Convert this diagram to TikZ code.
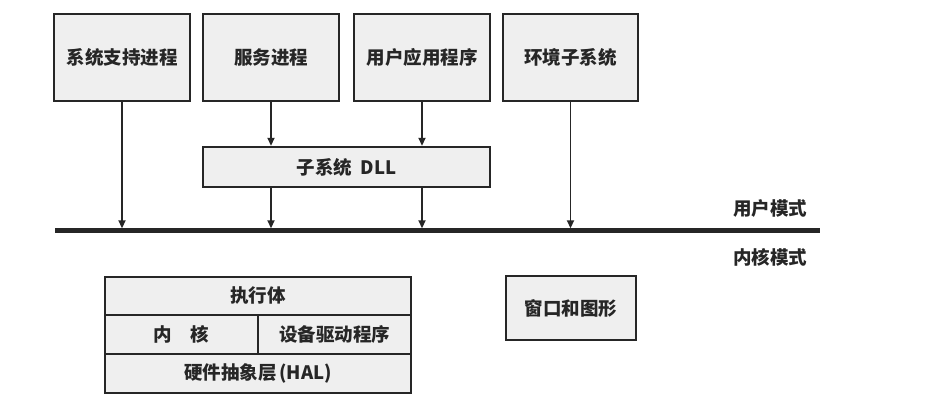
\documentclass[tikz,border=0pt]{standalone}
\usepackage{fontspec}
\setmainfont{Noto Sans CJK SC}
\usetikzlibrary{arrows.meta}
\definecolor{boxfill}{HTML}{EFEFEF}
\definecolor{ink}{HTML}{262626}
\tikzset{
  box/.style={draw=ink, fill=boxfill, line width=2.4pt, inner sep=0pt, text=ink,
    font=\fontsize{18.5}{22}\selectfont\bfseries},
  arr/.style={draw=ink, line width=1.8pt, -{Triangle[length=8pt,width=7pt]}},
  lbl/.style={text=ink, font=\fontsize{18.5}{22}\selectfont\bfseries, inner sep=0pt}
}
\begin{document}
\begin{tikzpicture}[x=1pt,y=-1pt]
\useasboundingbox[fill=white] (0,0) rectangle (929,414);
% top boxes
\node[box, minimum width=136pt, minimum height=87pt] (b1) at (122,57.5) {系统支持进程};
\node[box, minimum width=136pt, minimum height=87pt] (b2) at (271,57.5) {服务进程};
\node[box, minimum width=136pt, minimum height=87pt] (b3) at (422,57.5) {用户应用程序};
\node[box, minimum width=135pt, minimum height=87pt] (b4) at (570.5,57.5) {环境子系统};
\node[box, minimum width=287pt, minimum height=40pt] (dll) at (346.5,167) {子系统\ \ DLL};
% bar
\node[fill=ink, minimum width=765pt, minimum height=5pt, inner sep=0pt] (bar) at (437.5,231) {};
\node[lbl] (um) at (770,208) {用户模式};
\node[lbl] (km) at (770,257) {内核模式};
% arrows
\draw[arr] (b1.south) -- (b1.south |- bar.north);
\draw[arr] (b2.south) -- (b2.south |- dll.north);
\draw[arr] (b3.south) -- (b3.south |- dll.north);
\draw[arr] (dll.south -| b2.south) -- (b2.south |- bar.north);
\draw[arr] (dll.south -| b3.south) -- (b3.south |- bar.north);
\draw[arr] (b4.south) -- (b4.south |- bar.north);
% kernel blocks
\node[box, minimum width=306pt, minimum height=38pt] (exec) at (258,296) {执行体};
\node[box, minimum width=153pt, minimum height=39pt] (kern) at (181.5,334.5) {内\quad 核};
\node[box, minimum width=153pt, minimum height=39pt] (drv) at (334.5,334.5) {设备驱动程序};
\node[box, minimum width=306pt, minimum height=39pt] (hal) at (258,373.5) {硬件抽象层\,(HAL)};
\node[box, minimum width=130pt, minimum height=64pt] (win) at (571,308) {窗口和图形};
\end{tikzpicture}
\end{document}
